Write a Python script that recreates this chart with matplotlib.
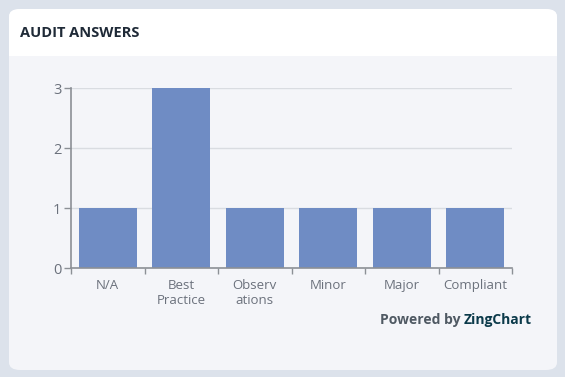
import matplotlib
matplotlib.use("Agg")
import matplotlib.pyplot as plt
from matplotlib.patches import FancyBboxPatch, Rectangle

categories = ["N/A", "Best\nPractice", "Observ\nations", "Minor", "Major", "Compliant"]
values = [1, 3, 1, 1, 1, 1]
yticks = [0, 1, 2, 3]

W, H = 565, 377
fig = plt.figure(figsize=(W / 100, H / 100), dpi=100)
fig.patch.set_facecolor("#dce2eb")

def fx(px):
    return px / W

def fy(py):
    return 1 - py / H

# card
card = FancyBboxPatch((fx(9), fy(370)), fx(557) - fx(9), fy(9) - fy(370),
                      boxstyle="round,pad=0,rounding_size=0.02",
                      transform=fig.transFigure, facecolor="#f4f5f9",
                      edgecolor="none", zorder=-3)
fig.patches.append(card)
hdr = FancyBboxPatch((fx(9), fy(56)), fx(557) - fx(9), fy(9) - fy(56),
                     boxstyle="round,pad=0,rounding_size=0.02",
                     transform=fig.transFigure, facecolor="white",
                     edgecolor="none", zorder=-2)
fig.patches.append(hdr)
hdr2 = Rectangle((fx(9), fy(56)), fx(557) - fx(9), fy(40) - fy(56),
                 transform=fig.transFigure, facecolor="white",
                 edgecolor="none", zorder=-2)
fig.patches.append(hdr2)

fig.text(fx(20), fy(33), "AUDIT ANSWERS", fontsize=10.5, fontweight="bold",
         color="#1f2a37", family="Open Sans", va="center", ha="left")

ax = fig.add_axes([fx(71), fy(268), fx(512) - fx(71), fy(88) - fy(268)])
ax.set_facecolor("none")
x = list(range(len(categories)))
ax.bar(x, values, width=0.79, color="#6f8cc4", zorder=3)
ax.set_xlim(-0.5, len(categories) - 0.5)
ax.set_ylim(0, 3)
ax.set_yticks(yticks)
ax.set_yticklabels([str(v) for v in yticks])
ax.set_xticks([i - 0.5 for i in range(len(categories) + 1)])
ax.set_xticklabels([])
ax.set_xticks(x, minor=True)
ax.set_xticklabels(categories, minor=True, fontsize=9.5, color="#6b717c",
                   family="Open Sans", linespacing=1.2)
ax.tick_params(axis="x", which="minor", length=0, pad=8)
ax.tick_params(axis="x", which="major", length=4, color="#8c9096", width=1)
ax.tick_params(axis="y", length=5, color="#8c9096", width=1, labelsize=10.5,
               labelcolor="#6b717c", pad=2)
for lbl in ax.get_yticklabels():
    lbl.set_family("Open Sans")
ax.grid(axis="y", color="#d9dce1", linewidth=1, zorder=1)
for s in ["top", "right"]:
    ax.spines[s].set_visible(False)
for s in ["left", "bottom"]:
    ax.spines[s].set_color("#8c9096")
    ax.spines[s].set_linewidth(1.2)
    ax.spines[s].set_zorder(4)

fig.text(fx(464), fy(320), "ZingChart", fontsize=10, fontweight="bold",
         color="#0b3a4a", family="Open Sans", va="center", ha="left")
fig.text(fx(461), fy(320), "Powered by", fontsize=10, fontweight="bold",
         color="#4f5963", family="Open Sans", va="center", ha="right")

fig.savefig("out.png", dpi=100, facecolor=fig.get_facecolor())
